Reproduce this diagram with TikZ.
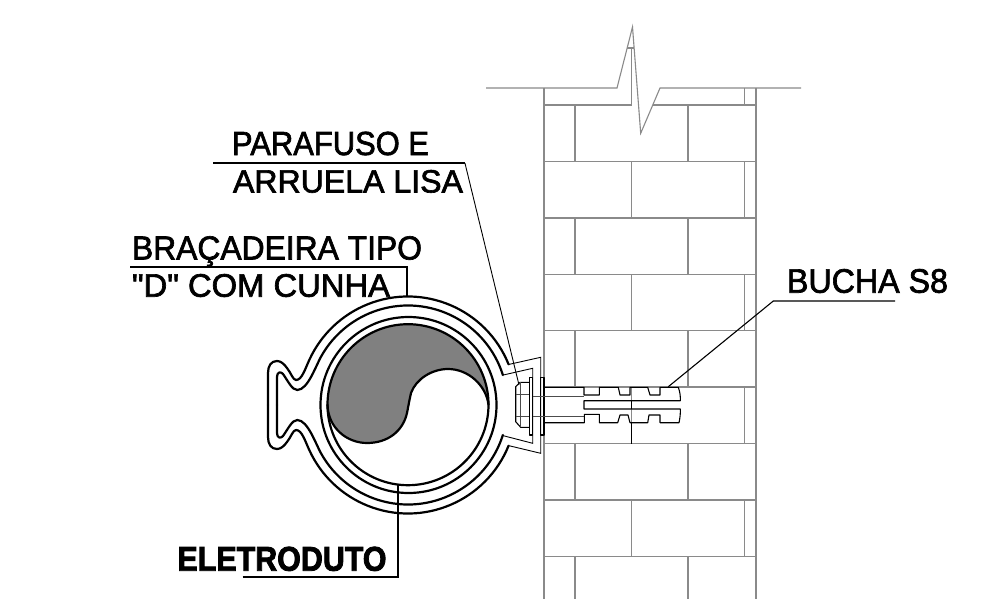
\documentclass[tikz,border=0pt]{standalone}
\usepackage{graphicx}
\usepackage{fontspec}
\newfontfamily\labfont[FakeBold=2]{Liberation Sans}
\newfontfamily\labbold[BoldFont={Liberation Sans Bold},FakeBold=2.5]{Liberation Sans}
\newcommand{\lab}[3]{\resizebox{#1pt}{#2pt}{\labfont\fontsize{32pt}{34pt}\selectfont #3}}
\newcommand{\labb}[3]{\resizebox{#1pt}{#2pt}{\labbold\bfseries\fontsize{32pt}{34pt}\selectfont #3}}
\definecolor{wallc}{HTML}{8A8A8A}
\definecolor{fillc}{HTML}{808080}
\tikzset{
  wall/.style={draw=wallc,line width=1.1pt},
  band/.style={draw=black,line width=2.2pt,line cap=round,line join=round},
  thinline/.style={draw=black,line width=0.9pt,line join=miter},
  midline/.style={draw=black,line width=1.1pt,line join=round},
  leaderthick/.style={draw=black,line width=2pt},
  boltline/.style={draw=black!70,line width=1pt},
  labeltext/.style={inner sep=0pt,outer sep=0pt,anchor=base west,text=black}
}
\begin{document}
\begin{tikzpicture}[x=1pt,y=-1pt]
\useasboundingbox (0,0) rectangle (985,599);
\fill[white] (0,0) rectangle (985,599);
% wall: outline and break line
\draw[wall] (486,88) -- (617,88) -- (632.5,27) -- (640.7,133.3) -- (660,88) -- (801,88);
\draw[wall] (544,88) -- (544,599);
\draw[wall] (756,88) -- (756,599);
\draw[wall] (627,48) -- (634,48);
\draw[wall] (544,105) -- (631.5,105);
\draw[wall] (653,105) -- (756,105);
\foreach \yy in {161.5,218,274.3,330.7,387,443.5,500,556.5}
  \draw[wall] (544,\yy) -- (756,\yy);
\draw[wall] (631.5,48) -- (631.5,105);
\draw[wall] (744.5,88) -- (744.5,105);
\foreach \ya/\yb in {105/161.5,218/274.3,330.7/387,443.5/500,556.5/599}{
  \draw[wall] (575,\ya) -- (575,\yb);
  \draw[wall] (688,\ya) -- (688,\yb);
}
\foreach \ya/\yb in {161.5/218,274.3/330.7,387/443.5,500/556.5}{
  \draw[wall] (631.5,\ya) -- (631.5,\yb);
  \draw[wall] (744.5,\ya) -- (744.5,\yb);
}
% conduit fill
\fill[fillc] (488.5,404.7) arc[start angle=0,end angle=-180,radius=80.5]
  .. controls (328,428) and (347,443) .. (367,443)
  .. controls (388,443) and (403,431) .. (407,413)
  .. controls (408,408) and (409,402) .. (411,393)
  .. controls (416,379) and (432,369) .. (448,369)
  .. controls (468,369) and (486,385) .. (488.5,404.7) -- cycle;
\draw[band] (327.5,404.7)
  .. controls (328,428) and (347,443) .. (367,443)
  .. controls (388,443) and (403,431) .. (407,413)
  .. controls (408,408) and (409,402) .. (411,393)
  .. controls (416,379) and (432,369) .. (448,369)
  .. controls (468,369) and (486,385) .. (488.5,404.7);
% rings
\draw[band] (408,404.7) circle[radius=80.5];
\draw[band] (408.5,405) circle[radius=88];
% clamp band, upper half and its mirror
\foreach \flip in {1,-1}{
\begin{scope}[shift={(408,405)},yscale=\flip]
  \draw[band] ({108.5*cos(-22)},{108.5*sin(-22)}) arc[start angle=-22,end angle=-155,radius=108.5]
    .. controls (-103,-36) and (-106,-25) .. (-112,-25)
    .. controls (-115,-25) and (-117,-32) .. (-121,-37)
    .. controls (-124,-41) and (-127,-44) .. (-131,-44)
    .. controls (-137,-44) and (-140,-39) .. (-140,-32)
    -- (-140,0);
  \draw[band] ({99.5*cos(-17.5)},{99.5*sin(-17.5)}) arc[start angle=-17.5,end angle=-150,radius=99.5]
    .. controls (-92,-40) and (-100,-15) .. (-110.7,-15)
    .. controls (-116,-15) and (-120,-24) .. (-125,-31)
    .. controls (-127,-33.5) and (-131,-33.5) .. (-131,-28)
    -- (-131,0);
\end{scope}
}
% flanges
\draw[thinline] (503.3,375) -- (532.7,368.3) -- (532.7,443.3) -- (503.3,435.7);
\draw[thinline] (509,364.4) -- (540.7,357.3) -- (540.7,453.3) -- (509,445.7);
% washers
\draw[midline] (529.3,377.7) rectangle (532.7,435);
\draw[midline] (540.7,377.3) rectangle (544,435);
% bolt head
\draw[midline] (529.3,382.3) -- (520,382.3) -- (515.7,386.7) -- (515.7,421.7) -- (520.7,427.3) -- (529.3,427.3);
\draw[boltline] (520.7,382.3) -- (520.7,427.3);
\draw[boltline] (515.7,394) -- (529.3,394);
\draw[boltline] (515.7,416.7) -- (529.3,416.7);
\draw[boltline] (532.7,396) -- (584,396);
\draw[boltline] (532.7,416) -- (584,416);
% plug
\draw[midline] (543.3,387.3) -- (584,387.3) -- (584,395) -- (599.3,395) -- (599.3,387.3) -- (618.3,387.3) -- (620,395) -- (630,395) -- (630,387.3) -- (647.7,387.3) -- (650,395) -- (660,395) -- (660,387.3) -- (678.3,387.3)
  .. controls (680,392) and (680.5,396) .. (680.3,400.7) -- (584,400.7) -- (584,409) -- (680.3,409)
  .. controls (680.5,414) and (680,418) .. (679,422.7) -- (660,422.7) -- (660,415) -- (649,415) -- (647.7,422.7) -- (630,422.7) -- (628,415) -- (620,415) -- (617.7,422.7) -- (599.3,422.7) -- (599.3,414.3) -- (584.3,414.3) -- (584.3,422.7) -- (543.3,422.7);
\draw[midline] (631.5,400.7) -- (631.5,409);
\draw[midline] (631.5,422.7) -- (631.5,443.5);
% labels
\node[labeltext] (parafuso) at (232,155) {\lab{197}{23.3}{PARAFUSO E}};
\node[labeltext] (arruela) at (233,192.5) {\lab{230}{22.5}{ARRUELA LISA}};
\node[labeltext] (bracadeira) at (132,259.5) {\lab{290}{23.3}{BRAÇADEIRA TIPO}};
\node[labeltext] (dcom) at (132,296.7) {\lab{258}{22.7}{"D" COM CUNHA}};
\node[labeltext] (bucha) at (787,292.7) {\lab{161}{23.7}{BUCHA S8}};
\node[labeltext] (eletroduto) at (177.5,570.7) {\labb{209}{24}{ELETRODUTO}};
% leaders
\coordinate (pa) at (213.3,163.3);
\coordinate (pb) at (465,163.3);
\coordinate (pc) at (519,385);
\draw[leaderthick] (pa) -- (pb);
\draw[thinline] (pb) -- (pc);
\coordinate (ba) at (130,266.7);
\coordinate (bb) at (406.7,266.7);
\coordinate (bc) at (406.7,297);
\draw[leaderthick] (ba) -- (bb) -- (bc);
\coordinate (ea) at (242.7,576.7);
\coordinate (eb) at (398.3,576.7);
\coordinate (ec) at (398.3,485);
\draw[leaderthick] (ea) -- (eb) -- (ec);
\coordinate (sa) at (895,301);
\coordinate (sb) at (773.3,301);
\coordinate (sc) at (668.3,386.7);
\draw[midline] (sa) -- (sb) -- (sc);
\end{tikzpicture}
\end{document}
